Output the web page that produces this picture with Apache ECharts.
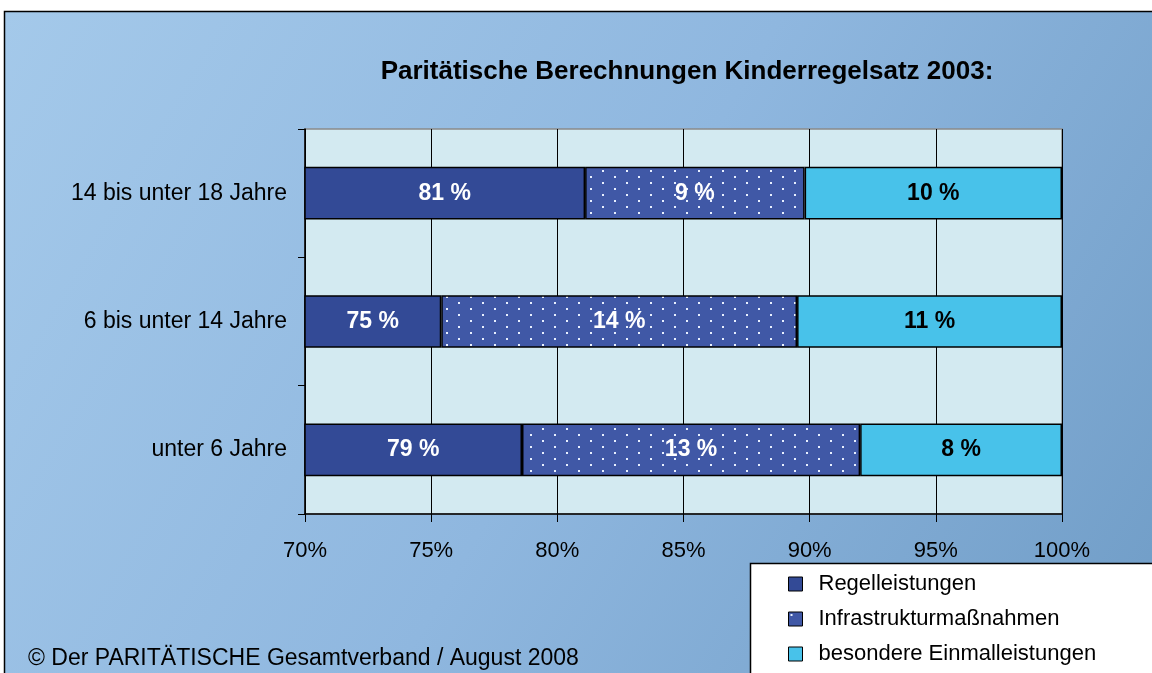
<!DOCTYPE html>
<html>
<head>
<meta charset="utf-8">
<script src="https://cdn.jsdelivr.net/npm/echarts@6/dist/echarts.min.js"></script>
<style>
  html, body { margin: 0; padding: 0; background: #fff; }
  #chart { width: 1152px; height: 673px; }
</style>
</head>
<body>
<div id="chart"></div>
<script>
// data, bottom to top as echarts draws category axes
var categories = ['unter 6 Jahre', '6 bis unter 14 Jahre', '14 bis unter 18 Jahre']
var regelleistungen = [78.6, 75.4, 81.1]
var infrastruktur = [13.4, 14.1, 8.7]
var einmalleistungen = [8.0, 10.5, 10.2]
var seriesNames = ['Regelleistungen', 'Infrastrukturmaßnahmen', 'besondere Einmalleistungen']
var xTicks = { min: 70, max: 100, interval: 5 }

var FONT = 'Liberation Sans, Arial, sans-serif'

// dotted fill for the middle series
function dotPattern() {
    var c = document.createElement('canvas')
    c.width = 24
    c.height = 12
    var ctx = c.getContext('2d')
    ctx.fillStyle = '#4058a6'
    ctx.fillRect(0, 0, 24, 12)
    ctx.fillStyle = '#e8f0ff'
    ctx.fillRect(2, 2, 2, 2)
    ctx.fillRect(14, 8, 2, 2)
    return c
}

var pctLabel = function (color) {
    return {
        show: true,
        position: 'inside',
        color: color,
        fontFamily: FONT,
        fontWeight: 'bold',
        fontSize: 23,
        formatter: function (p) { return Math.round(p.value) + ' %' }
    }
}

var barItem = function (color) {
    return { color: color, borderColor: '#000', borderWidth: 1.5 }
}

var chart = echarts.init(document.getElementById('chart'))
chart.setOption({
    animation: false,
    graphic: [{
        type: 'rect',
        z: -10,
        silent: true,
        shape: { x: 4.5, y: 11.5, width: 1160, height: 680 },
        style: {
            stroke: '#000',
            lineWidth: 1.5,
            fill: new echarts.graphic.LinearGradient(0, 0, 1, 1, [
                { offset: 0, color: '#a4c9ea' },
                { offset: 0.5, color: '#8fb7df' },
                { offset: 1, color: '#6f9cc6' }
            ])
        }
    }, {
        type: 'text',
        left: 28,
        top: 647,
        style: {
            text: '© Der PARITÄTISCHE Gesamtverband / August 2008',
            fontFamily: FONT,
            fontSize: 23,
            fill: '#000'
        }
    }, {
        type: 'rect',
        z: 5,
        shape: { x: 750.5, y: 563.5, width: 420, height: 120 },
        style: { fill: '#fff', stroke: '#000', lineWidth: 1.5 }
    }],
    title: {
        text: 'Paritätische Berechnungen Kinderregelsatz 2003:',
        left: 682,
        textAlign: 'center',
        top: 54,
        textStyle: { fontFamily: FONT, fontSize: 26, fontWeight: 'bold', color: '#000' }
    },
    legend: {
        orient: 'vertical',
        left: 788,
        top: 572,
        padding: 0,
        height: 100,
        z: 10,
        itemWidth: 14,
        itemHeight: 14,
        itemGap: 11,
        icon: 'rect',
        data: seriesNames,
        itemStyle: { borderColor: '#000', borderWidth: 1 },
        textStyle: { fontFamily: FONT, fontSize: 22, color: '#000', padding: [0, 0, 0, 11], lineHeight: 24 }
    },
    grid: {
        left: 305,
        right: 90,
        top: 129,
        bottom: 159,
        show: true,
        backgroundColor: '#d3eaf1',
        borderColor: '#8a8a8a',
        borderWidth: 1.5
    },
    xAxis: {
        type: 'value',
        min: xTicks.min,
        max: xTicks.max,
        interval: xTicks.interval,
        axisLine: { show: true, onZero: false, lineStyle: { color: '#000', width: 1.5 } },
        axisTick: { show: true, length: 8, lineStyle: { color: '#000' } },
        splitLine: { show: true, lineStyle: { color: '#000', width: 1 } },
        axisLabel: { formatter: '{value}%', margin: 26, fontFamily: FONT, fontSize: 22, color: '#000' }
    },
    yAxis: {
        type: 'category',
        data: categories,
        axisLine: { show: true, lineStyle: { color: '#000', width: 1.5 } },
        axisTick: { show: true, length: 7, lineStyle: { color: '#000' } },
        axisLabel: { margin: 18, fontFamily: FONT, fontSize: 23, color: '#000' }
    },
    series: [{
        name: seriesNames[0],
        type: 'bar',
        stack: 'all',
        barWidth: '41%',
        data: regelleistungen,
        itemStyle: barItem('#334a96'),
        label: pctLabel('#fff')
    }, {
        name: seriesNames[1],
        type: 'bar',
        stack: 'all',
        data: infrastruktur,
        itemStyle: barItem({ image: dotPattern(), repeat: 'repeat' }),
        label: pctLabel('#fff')
    }, {
        name: seriesNames[2],
        type: 'bar',
        stack: 'all',
        data: einmalleistungen,
        itemStyle: barItem('#48c2ea'),
        label: pctLabel('#000')
    }]
})
</script>
</body>
</html>
